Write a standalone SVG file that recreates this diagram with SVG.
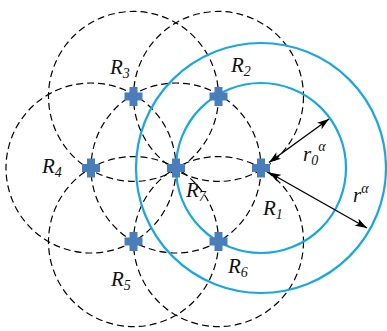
<svg xmlns="http://www.w3.org/2000/svg" width="387" height="331" viewBox="0 0 387 331">
<style>
.d{fill:none;stroke:#000;stroke-width:1.2;stroke-dasharray:7 4}
.b{fill:none;stroke:#1aa7e0;stroke-width:2.2}
.x{fill:#4a7ebb}
.a{stroke:#000;stroke-width:1.4;fill:none;marker-start:url(#h);marker-end:url(#h)}
text{font-family:"Liberation Serif","Times New Roman",serif;font-style:italic;font-size:21px;fill:#111}
.s{font-size:14px}
</style>
<defs>
<marker id="h" viewBox="0 0 12 8" refX="12" refY="4" markerWidth="12" markerHeight="8" markerUnits="userSpaceOnUse" orient="auto-start-reverse">
<path d="M0,0 L12,4 L0,8 L3,4 Z" fill="#000"/>
</marker>
<path id="c" d="M-4,-9.5h8v5.5h5v8h-5v5.5h-8v-5.5h-5v-8h5z"/>
</defs>
<g id="ranges">
<circle class="d" cx="218.5" cy="96.4" r="85"/>
<circle class="d" cx="133.5" cy="96.4" r="85"/>
<circle class="d" cx="91" cy="168" r="85"/>
<circle class="d" cx="133.5" cy="241.6" r="85"/>
<circle class="d" cx="218.5" cy="241.6" r="85"/>
<circle class="d" cx="176" cy="168" r="85"/>
<circle class="b" cx="261" cy="168" r="85"/>
<circle class="b" cx="261" cy="168" r="125"/>
</g>
<g id="connectors">
<line class="a" x1="269" y1="162.5" x2="329" y2="119"/>
<line class="a" x1="269" y1="172.5" x2="367" y2="228"/>
</g>
<g id="R1"><use href="#c" x="261" y="168" class="x"/><text x="263" y="215">R<tspan class="s" dy="4">1</tspan></text></g>
<g id="R2"><use href="#c" x="218.5" y="96.4" class="x"/><text x="231" y="72">R<tspan class="s" dy="4">2</tspan></text></g>
<g id="R3"><use href="#c" x="133.5" y="96.4" class="x"/><text x="110" y="74">R<tspan class="s" dy="4">3</tspan></text></g>
<g id="R4"><use href="#c" x="91" y="168" class="x"/><text x="42" y="173">R<tspan class="s" dy="4">4</tspan></text></g>
<g id="R5"><use href="#c" x="133.5" y="241.6" class="x"/><text x="111" y="286">R<tspan class="s" dy="4">5</tspan></text></g>
<g id="R6"><use href="#c" x="218.5" y="241.6" class="x"/><text x="228" y="273">R<tspan class="s" dy="4">6</tspan></text></g>
<g id="R7"><use href="#c" x="176" y="168" class="x"/><text x="186" y="197">R<tspan class="s" dy="4">7</tspan></text></g>
<g id="labels">
<text x="303" y="161">r<tspan class="s" dy="4">0</tspan><tspan class="s" dy="-14">α</tspan></text>
<text x="353" y="202">r<tspan class="s" dy="-9">α</tspan></text>
</g>
</svg>
